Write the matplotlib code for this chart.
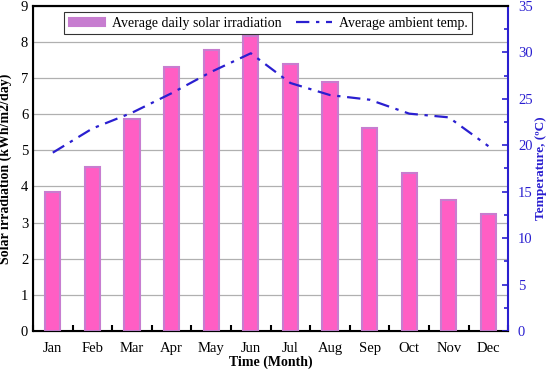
import matplotlib.pyplot as plt
import numpy as np
from matplotlib.ticker import MultipleLocator

months = ['Jan', 'Feb', 'Mar', 'Apr', 'May', 'Jun',
          'Jul', 'Aug', 'Sep', 'Oct', 'Nov', 'Dec']
irradiation = [3.85, 4.55, 5.87, 7.3, 7.77, 8.18, 7.38, 6.88, 5.62, 4.37, 3.62, 3.25]
temperature = [19.2, 21.8, 23.5, 25.6, 27.9, 29.9, 26.7, 25.4, 24.9, 23.4, 23.0, 19.9]

plt.rcParams['font.family'] = ['Liberation Serif', 'DejaVu Serif']

fig = plt.figure(figsize=(5.5, 3.71), dpi=100)
ax = fig.add_axes([0.06, 0.108, 0.864, 0.876])
x = np.arange(len(months))

bars = ax.bar(x, irradiation, width=0.38, color='#ff5ec4', edgecolor='#c77dd0',
              linewidth=1.5, label='Average daily solar irradiation', zorder=3)
ax.set_ylim(0, 9)
ax.set_xlim(-0.5, 11.5)
ax.yaxis.set_major_locator(MultipleLocator(1))
ax.grid(axis='y', color='#b0b0b0', linewidth=0.9, zorder=0)
ax.set_xticks(x)
ax.set_xticklabels(months, fontsize=10.5)
ax.set_xticks(np.arange(-0.5, 12, 1), minor=True)
ax.tick_params(axis='x', which='major', length=0, pad=8)
ax.tick_params(axis='x', which='minor', direction='in', length=4, width=1.5)
ax.tick_params(axis='y', direction='in', length=0, labelsize=10.5)
ax.set_ylabel('Solar irradiation (kWh/m2/day)', fontsize=10, fontweight='bold', labelpad=6)
ax.set_xlabel('Time (Month)', fontsize=10, fontweight='bold', labelpad=0)
for s in ['left', 'bottom', 'top']:
    ax.spines[s].set_linewidth(1.5)
ax.spines['right'].set_visible(False)

ax2 = ax.twinx()
line, = ax2.plot(x, temperature, color='#2a1fd0', linestyle=(0, (6, 3, 1.5, 3)),
                 linewidth=1.6, label='Average ambient temp.', zorder=4)
ax2.set_ylim(0, 35)
ax2.yaxis.set_major_locator(MultipleLocator(5))
ax2.yaxis.set_minor_locator(MultipleLocator(2.5))
ax2.tick_params(axis='y', which='both', direction='in', colors='#2a1fd0', labelsize=10.5)
ax2.tick_params(axis='y', which='major', length=4, width=1.2, pad=7)
ax2.tick_params(axis='y', which='minor', length=3, width=1.2)
ax2.spines['right'].set_color('#2a1fd0')
ax2.spines['right'].set_linewidth(1.5)
ax2.spines['top'].set_linewidth(1.5)
ax2.set_ylabel('Temperature, (ºC)', fontsize=9.5, fontweight='bold', color='#2a1fd0', labelpad=2)

leg = ax2.legend([bars, line], ['Average daily solar irradiation', 'Average ambient temp.'],
                 loc='upper center', ncol=2, fontsize=10, frameon=True, fancybox=False,
                 edgecolor='black', handlelength=2.6, columnspacing=1.0,
                 bbox_to_anchor=(0.495, 0.995), borderaxespad=0.3, handletextpad=0.5,
                 borderpad=0.35, handleheight=0.5)
leg.get_frame().set_linewidth(0.8)
leg.legend_handles[0].set_facecolor('#c77dd0')
leg.legend_handles[0].set_edgecolor('#c77dd0')

fig.savefig('out.png', dpi=100)
